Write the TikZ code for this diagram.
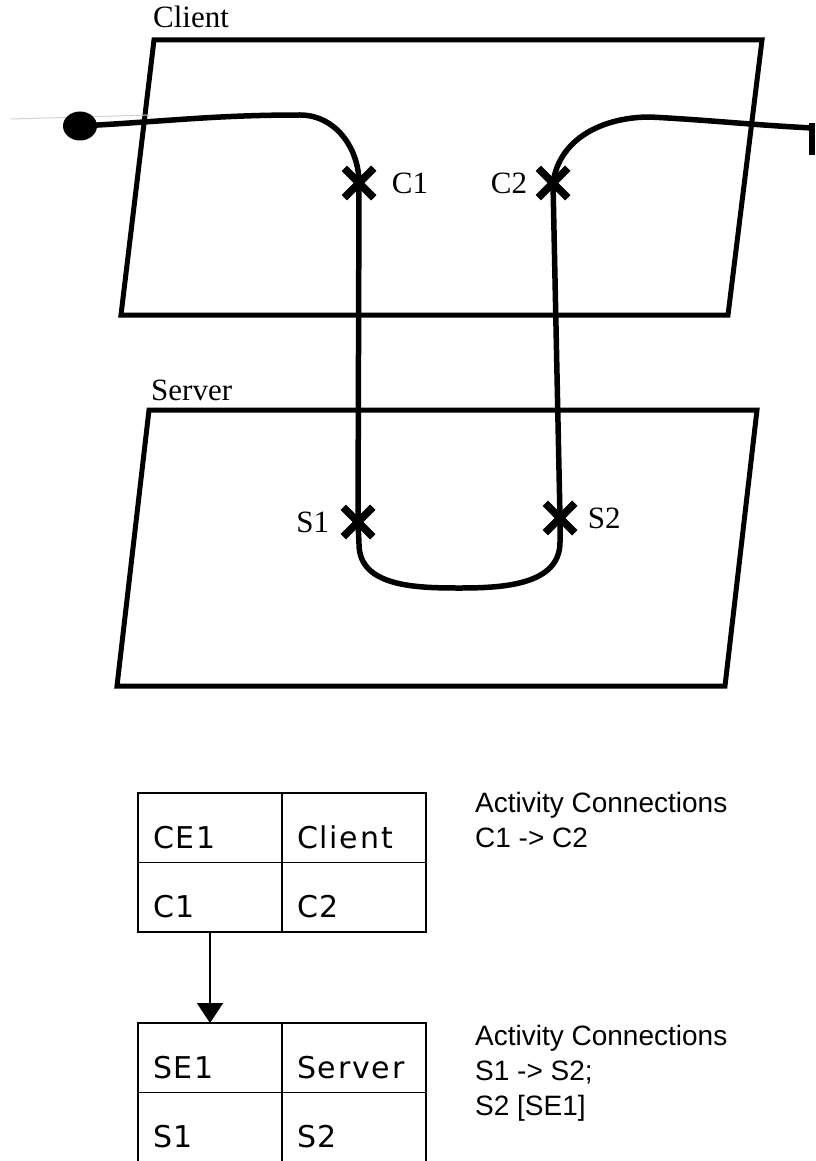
\documentclass[tikz,border=0pt]{standalone}
\usepackage{fontspec}
\setmainfont{Liberation Serif}
\setsansfont{Liberation Sans}
\newfontfamily\cellfont[LetterSpace=6]{DejaVu Sans}
\usetikzlibrary{shapes.geometric, shapes.misc, arrows.meta, positioning}
\tikzset{
  plane/.style={line width=5pt, line join=miter},
  wire/.style={line width=5.5pt},
  xmark/.style={draw, cross out, line width=7.5pt, minimum size=22pt, inner sep=0pt},
  tag/.style={font=\fontsize{31}{34}\selectfont, inner sep=0pt},
  cell/.style={draw, line width=1.8pt, outer sep=0pt, inner xsep=15pt, inner ysep=0pt,
               minimum width=144pt, minimum height=69.5pt, text width=114pt, align=left,
               text height=44pt, text depth=3pt, font=\fontsize{30}{32}\cellfont},
  note/.style={font=\fontsize{28}{35}\selectfont\sffamily, align=left, inner sep=0pt, anchor=north west},
  link/.style={-{Triangle[width=26pt,length=20pt]}, line width=1.8pt},
}
\begin{document}
\begin{tikzpicture}[x=1pt, y=-1pt]
  \useasboundingbox (0,0) rectangle (815,1161);
  \clip (0,0) rectangle (815,1161);
  % the two planes
  \draw[plane] (154,40) -- (762,40) -- (728,315) -- (121,315) -- cycle;
  \draw[plane] (149,410) -- (757,410) -- (725,686) -- (117,686) -- cycle;
  \node[tag, anchor=base west] (client) at (153,28) {Client};
  \node[tag, anchor=base west] (server) at (151,400) {Server};
  \node[xmark] (c1) at (359,183) {};
  \node[xmark] (c2) at (553,183) {};
  \node[xmark] (s1) at (358,522) {};
  \node[xmark] (s2) at (560,518) {};
  \node[tag, right=18pt of c1] {C1};
  \node[tag, left=11pt of c2] {C2};
  \node[tag, left=14pt of s1] {S1};
  \node[tag, right=13pt of s2] {S2};
  % the path through both planes
  \draw[gray!35, line width=1pt] (11,119) -- (150,115);
  \node[fill, ellipse, minimum width=34pt, minimum height=29pt, inner sep=0pt] (start) at (80,126) {};
  \coordinate (bend1) at (300,115);
  \coordinate (bend2) at (650,117);
  \coordinate (tail) at (812,128);
  \draw[wire] (start.center) to[out=3, in=180] (bend1) to[out=0, in=90] (c1.center)
    -- (s1.center) -- ++(1,22) to[out=-90, in=180] (460,588) to[out=0, in=-90] (560,542)
    -- (s2.center) -- (c2.center) to[out=82, in=180] (bend2) to[out=-3, in=177] (tail);
  \node[fill, inner sep=0pt, minimum width=6pt, minimum height=32pt, anchor=north west] (stub) at (809,123) {};
  % entry tables
  \node[cell, anchor=north west] (ce1) at (138,793) {CE1};
  \node[cell, right=0pt of ce1] (cname) {Client};
  \node[cell, below=0pt of ce1] (cc1) {C1};
  \node[cell, right=0pt of cc1] (cc2) {C2};
  \node[cell, anchor=north west] (se1) at (138,1023) {SE1};
  \node[cell, right=0pt of se1] (sname) {Server};
  \node[cell, below=0pt of se1] (ss1) {S1};
  \node[cell, right=0pt of ss1] (ss2) {S2};
  \draw[link] (cc1.south) -- (se1.north);
  \node[note] (cnote) at (475,792) {Activity Connections\\C1 -> C2};
  \node[note] (snote) at (475,1025) {Activity Connections\\S1 -> S2;\\S2 [SE1]};
\end{tikzpicture}
\end{document}
